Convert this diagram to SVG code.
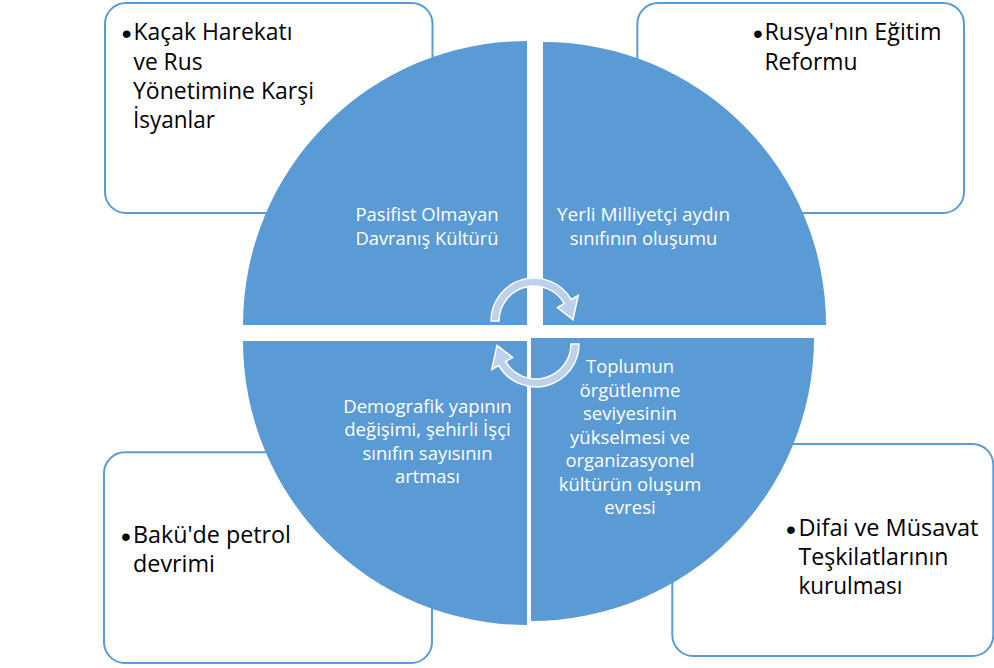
<svg xmlns="http://www.w3.org/2000/svg" width="994" height="668" viewBox="0 0 994 668">
<style>
.box{fill:#ffffff;stroke:#5B9BD5;stroke-width:2}
.quad{fill:#5B9BD5}
.out{font-family:"Open Sans","Liberation Sans",sans-serif;font-size:23.5px;fill:#000000}
.in{font-family:"Open Sans","Liberation Sans",sans-serif;font-size:18.8px;fill:#ffffff;text-anchor:middle}
.bul{font-family:"Liberation Sans",Arial,sans-serif;font-size:28px;fill:#000000;text-anchor:middle}
.arr{fill:#BDD1EC;stroke:#ffffff;stroke-width:1.5;stroke-linejoin:miter}
</style>
<rect width="994" height="668" fill="#ffffff"/>
<g id="box-tl">
<rect class="box" x="105" y="3" width="327.5" height="210" rx="21" ry="21"/>
<text class="bul" x="126.7" y="43">•</text>
<text class="out" x="133.5" y="40" textLength="159" lengthAdjust="spacingAndGlyphs">Kaçak Harekatı</text>
<text class="out" x="133.5" y="69.5" textLength="69" lengthAdjust="spacingAndGlyphs">ve Rus</text>
<text class="out" x="133" y="99" textLength="181" lengthAdjust="spacingAndGlyphs">Yönetimine Karşi</text>
<text class="out" x="133" y="128.3" textLength="82" lengthAdjust="spacingAndGlyphs">İsyanlar</text>
</g>
<g id="box-tr">
<rect class="box" x="637.3" y="3" width="326.7" height="210" rx="21" ry="21"/>
<text class="bul" x="757.8" y="43">•</text>
<text class="out" x="764.5" y="40" textLength="177" lengthAdjust="spacingAndGlyphs">Rusya'nın Eğitim</text>
<text class="out" x="764.5" y="69.5" textLength="93" lengthAdjust="spacingAndGlyphs">Reformu</text>
</g>
<g id="box-bl">
<rect class="box" x="104" y="452.3" width="328" height="210.7" rx="21" ry="21"/>
<text class="bul" x="125.8" y="546">•</text>
<text class="out" x="133" y="543" textLength="158" lengthAdjust="spacingAndGlyphs">Bakü'de petrol</text>
<text class="out" x="133" y="572" textLength="82" lengthAdjust="spacingAndGlyphs">devrimi</text>
</g>
<g id="box-br">
<rect class="box" x="672.3" y="444" width="321" height="212" rx="21" ry="21"/>
<text class="bul" x="790.8" y="539">•</text>
<text class="out" x="798.5" y="536" textLength="180" lengthAdjust="spacingAndGlyphs">Difai ve Müsavat</text>
<text class="out" x="798.5" y="565" textLength="150" lengthAdjust="spacingAndGlyphs">Teşkilatlarının</text>
<text class="out" x="798.5" y="594" textLength="104" lengthAdjust="spacingAndGlyphs">kurulması</text>
</g>
<g id="quad-tl">
<path class="quad" d="M527 325 L243 325 A284 284 0 0 1 527 41 Z"/>
<text class="in" x="427" y="220.5" textLength="143" lengthAdjust="spacingAndGlyphs">Pasifist Olmayan</text>
<text class="in" x="427" y="244.5" textLength="143" lengthAdjust="spacingAndGlyphs">Davranış Kültürü</text>
</g>
<g id="quad-tr">
<path class="quad" d="M543 325 L543 42 A283 283 0 0 1 826 325 Z"/>
<text class="in" x="643.5" y="220.5" textLength="173" lengthAdjust="spacingAndGlyphs">Yerli Milliyetçi aydın</text>
<text class="in" x="643.5" y="244.5" textLength="147.5" lengthAdjust="spacingAndGlyphs">sınıfının oluşumu</text>
</g>
<g id="quad-bl">
<path class="quad" d="M527 341 L527 625 A284 284 0 0 1 243 341 Z"/>
<text class="in" x="427.5" y="412.5" textLength="168.5" lengthAdjust="spacingAndGlyphs">Demografik yapının</text>
<text class="in" x="427.5" y="436" textLength="166.5" lengthAdjust="spacingAndGlyphs">değişimi, şehirli İşçi</text>
<text class="in" x="427.5" y="459.5" textLength="130" lengthAdjust="spacingAndGlyphs">sınıfın sayısının</text>
<text class="in" x="427.5" y="483" textLength="65" lengthAdjust="spacingAndGlyphs">artması</text>
</g>
<g id="quad-br">
<path class="quad" d="M531 338 L814 338 A283 283 0 0 1 531 621 Z"/>
<text class="in" x="630" y="373" textLength="88" lengthAdjust="spacingAndGlyphs">Toplumun</text>
<text class="in" x="630" y="396.5" textLength="101" lengthAdjust="spacingAndGlyphs">örgütlenme</text>
<text class="in" x="630" y="420" textLength="94" lengthAdjust="spacingAndGlyphs">seviyesinin</text>
<text class="in" x="630" y="443.5" textLength="120" lengthAdjust="spacingAndGlyphs">yükselmesi ve</text>
<text class="in" x="630" y="467" textLength="129" lengthAdjust="spacingAndGlyphs">organizasyonel</text>
<text class="in" x="630" y="490.5" textLength="142.5" lengthAdjust="spacingAndGlyphs">kültürün oluşum</text>
<text class="in" x="630" y="514" textLength="51.5" lengthAdjust="spacingAndGlyphs">evresi</text>
</g>
<g id="connectors">
<path class="arr" d="M491 321 A43 43 0 0 1 571.2 299.5 L578.2 295.5 L573 319.6 L557.4 307.5 L564.3 303.5 A35 35 0 0 0 499 321 Z"/>
<path class="arr" d="M579 344 A43 43 0 0 1 498.8 365.5 L491.8 369.5 L497 345.4 L512.6 357.5 L505.7 361.5 A35 35 0 0 0 571 344 Z"/>
</g>
</svg>
